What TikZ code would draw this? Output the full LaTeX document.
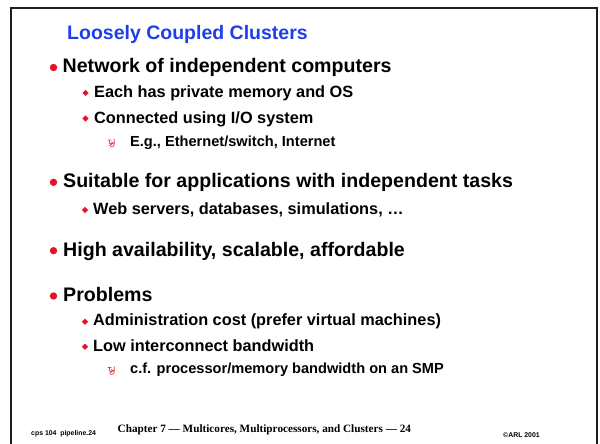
\documentclass[tikz,border=0pt]{standalone}
\usepackage{fontspec}
\setmainfont{Liberation Sans}
\newfontfamily\footserif{Liberation Serif}
\definecolor{titleblue}{RGB}{30,62,235}
\definecolor{bulletred}{RGB}{232,18,40}
\definecolor{framegray}{RGB}{30,30,30}
\tikzset{
  lvlone/.style={anchor=base west, inner sep=0pt, font=\fontsize{19.6}{22}\selectfont\bfseries},
  lvltwo/.style={anchor=base west, inner sep=0pt, font=\fontsize{16.3}{19}\selectfont\bfseries},
  lvlthree/.style={anchor=base west, inner sep=0pt, font=\fontsize{14.6}{17}\selectfont\bfseries},
  footsmall/.style={anchor=base west, inner sep=0pt, font=\fontsize{6.9}{8}\selectfont\bfseries},
  dotmark/.style={circle, fill=bulletred, inner sep=0pt, minimum size=7.4pt},
  diamondmark/.style={fill=bulletred},
  pics/leafmark/.style={code={
    \draw[bulletred!85!white, line width=0.75pt, line cap=round, line join=round]
      (0,1.6) -- (3.2,1.6)
      (1.6,1.6) .. controls (0.4,4) and (1.2,6.2) .. (3.2,5.6)
                .. controls (4.8,5.1) and (4.6,3.2) .. (3.4,3.6)
      (6.2,0.6) -- (6.2,5.8) .. controls (6.2,8.2) and (4.2,8.8) .. (2.4,8.2)
      (1.6,7.2) -- (6.2,3.8);
  }}
}
\begin{document}
\begin{tikzpicture}[x=1pt,y=-1pt]
\useasboundingbox (0,0) rectangle (600,444);
% slide frame, open at the bottom
\draw[framegray, line width=2.4pt] (11,444) -- (11,8) -- (597,8) -- (597,444);

% title
\node[anchor=base west, inner sep=0pt, text=titleblue,
      font=\fontsize{19.5}{22}\selectfont\bfseries] (title) at (67,40) {Loosely Coupled Clusters};

% first group
\node[dotmark] (b1) at (53.5,67.5) {};
\node[lvlone] (t1) at (62.5,73) {Network of independent computers};
\fill[diamondmark] (85.5,89.8) -- (88.6,92.9) -- (85.5,96) -- (82.4,92.9) -- cycle;
\node[lvltwo] (t1a) at (94,97.7) {Each has private memory and OS};
\fill[diamondmark] (85.5,115.4) -- (88.6,118.5) -- (85.5,121.6) -- (82.4,118.5) -- cycle;
\node[lvltwo] (t1b) at (94,123.3) {Connected using I/O system};
\pic at (108,138.5) {leafmark};
\node[lvlthree] (t1c) at (130,146) {E.g., Ethernet/switch, Internet};

% second group
\node[dotmark] (b2) at (53.5,182.3) {};
\node[lvlone] (t2) at (63,187.3) {Suitable for applications with independent tasks};
\fill[diamondmark] (85,206.9) -- (88.1,210) -- (85,213.1) -- (81.9,210) -- cycle;
\node[lvltwo] (t2a) at (93,214.3) {Web servers, databases, simulations, …};

% third group
\node[dotmark] (b3) at (53.5,250.7) {};
\node[lvlone] (t3) at (63,256.7) {High availability, scalable, affordable};

% fourth group
\node[dotmark] (b4) at (53.5,296) {};
\node[lvlone] (t4) at (63,301.7) {Problems};
\fill[diamondmark] (85,318.6) -- (88.1,321.7) -- (85,324.8) -- (81.9,321.7) -- cycle;
\node[lvltwo] (t4a) at (93,325.7) {Administration cost (prefer virtual machines)};
\fill[diamondmark] (85,343.6) -- (88.1,346.7) -- (85,349.8) -- (81.9,346.7) -- cycle;
\node[lvltwo] (t4b) at (93,351.7) {Low interconnect bandwidth};
\pic at (108,366) {leafmark};
\node[lvlthree] (t4c) at (130,373.3) {c.f. processor/memory bandwidth on an SMP};

% footer
\node[footsmall] (foot1) at (31,435) {cps 104 \ pipeline.24};
\node[anchor=base west, inner sep=0pt, font=\fontsize{11.2}{13}\selectfont\footserif\bfseries] (foot2) at (117.5,432.5) {Chapter 7 — Multicores, Multiprocessors, and Clusters — 24};
\node[footsmall] (foot3) at (503,437.5) {©ARL 2001};
\end{tikzpicture}
\end{document}
